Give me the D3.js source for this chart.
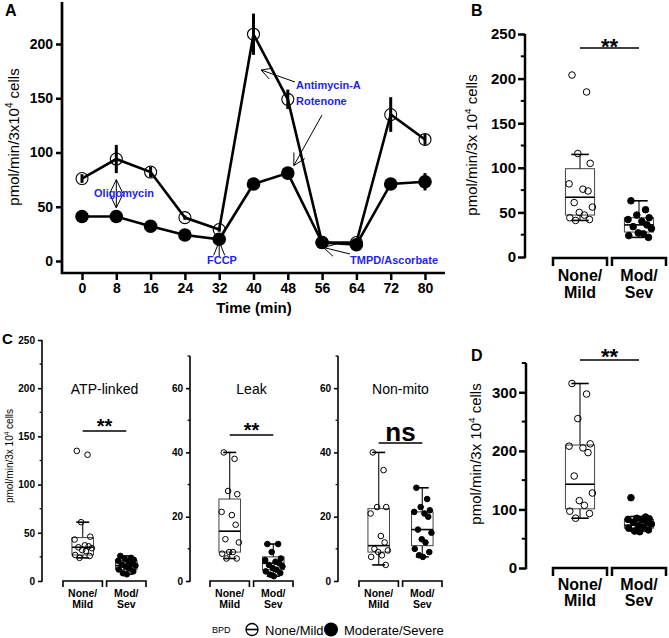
<!DOCTYPE html>
<html><head><meta charset="utf-8">
<script src="https://cdn.jsdelivr.net/npm/d3@7"></script>
<style>body{margin:0;background:#fff}svg{display:block}text{font-family:Arial,"Liberation Sans",sans-serif}</style>
</head><body><svg id="c" width="669" height="638"></svg>
<script>
// ---------- Panel A data ----------
const timePoints = [0, 8, 16, 24, 32, 40, 48, 56, 64, 72, 80];
const noneMildOCR = [76, 94, 82, 40, 29, 209, 149, 17, 17, 135, 112];
const noneMildErr = [4, 13, 5, 2, 2, 19, 9, 2, 2, 16, 5];
const modSevOCR = [41, 41, 32, 24, 20, 71, 81, 17, 15, 71, 73];
const modSevErr = [2, 2, 2, 2, 2, 3, 3, 2, 2, 3, 8];
const yTicksA = [0, 50, 100, 150, 200];

// ---------- Box panels data: [whiskerLow, Q1, median, Q3, whiskerHigh] ----------
const groups = ["None/Mild", "Mod/Sev"];
const B_nmStats = [41, 47, 67, 99, 115];
const B_nmDots = [204, 185, 116, 105, 82, 76, 74, 61, 56, 50, 47, 44, 42, 41];
const B_msStats = [22, 28, 36, 44, 63];
const B_msDots = [63, 53, 47, 44, 42, 40, 36, 34, 32, 27, 26, 24, 22];

const C1_nmStats = [24, 27, 35, 45, 61];
const C1_nmDots = [135, 131, 61, 46, 43, 37, 36, 35, 34, 32, 31, 27, 26, 24];
const C1_msStats = [7, 12, 16, 21, 26];
const C1_msDots = [26, 24, 23, 22, 21, 20, 18, 17, 16, 15, 13, 12, 10, 8, 7];

const C2_nmStats = [7, 9, 15.5, 25.5, 40];
const C2_nmDots = [40, 38, 28, 27, 21.5, 20.5, 17.5, 13, 12, 9, 9, 8.5, 7, 7];
const C2_msStats = [1.5, 3.5, 5.5, 7.5, 11.5];
const C2_msDots = [11.5, 11.5, 9, 7, 6.5, 6, 5.5, 5, 4.5, 4, 3.5, 3, 2.5, 2, 1.5];

const C3_nmStats = [5, 9, 11, 22.5, 40];
const C3_nmDots = [40, 34.5, 23, 23, 21, 14, 12, 10, 9.5, 9, 8, 7.5, 5];
const C3_msStats = [7.5, 11, 16, 21.5, 29];
const C3_msDots = [29, 25.5, 23, 22, 21.5, 21, 20, 16, 15, 13, 12, 10, 9, 8, 7.5];

const D_nmStats = [85, 101, 143, 210, 315];
const D_nmDots = [315, 297, 255, 212, 208, 205, 197, 157, 128, 115, 107, 97, 93, 85];
const D_msStats = [63, 68, 73, 83, 88];
const D_msDots = [120, 87, 85, 84, 83, 82, 80, 78, 75, 72, 70, 68, 65, 63, 62];

const svg = d3.select("#c");
const BLUE = "#1f1ff0";

function arrow(g, x1, y1, x2, y2, len, ang) {
  // shaft from (x1,y1) to tip (x2,y2), open V head
  g.append("line").attr("x1", x1).attr("y1", y1).attr("x2", x2).attr("y2", y2);
  const a = Math.atan2(y1 - y2, x1 - x2);
  [a - ang, a + ang].forEach(b => {
    g.append("line").attr("x1", x2).attr("y1", y2)
      .attr("x2", x2 + len * Math.cos(b)).attr("y2", y2 + len * Math.sin(b));
  });
}

// ================= Panel A =================
(function () {
  const xA = d3.scaleLinear().domain([0, 80]).range([82, 425]);
  const yA = d3.scaleLinear().domain([0, 200]).range([261, 44]);
  const g = svg.append("g");
  const axX = g.append("g").attr("transform", "translate(0,273)")
    .call(d3.axisBottom(xA).tickValues(timePoints).tickSize(7).tickPadding(3).tickFormat(d3.format("d")));
  const axY = g.append("g").attr("transform", "translate(62,0)")
    .call(d3.axisLeft(yA).tickValues(yTicksA).tickSize(6).tickPadding(3).tickFormat(d3.format("d")));
  [axX, axY].forEach(a => {
    a.select(".domain").remove();
    a.selectAll("line").attr("stroke-width", 2.5);
    a.selectAll("text").attr("font-size", 14).attr("font-weight", "bold").attr("fill", "#000");
  });
  g.append("path").attr("d", "M62,2V273H445").attr("fill", "none").attr("stroke", "#000").attr("stroke-width", 2.7);
  g.append("text").attr("x", 254).attr("y", 313).attr("text-anchor", "middle")
    .attr("font-size", 15).attr("font-weight", "bold").text("Time (min)");
  const yt = g.append("text").attr("transform", "translate(19,137) rotate(-90)")
    .attr("text-anchor", "middle").attr("font-size", 15);
  yt.append("tspan").text("pmol/min/3x10");
  yt.append("tspan").attr("font-size", 10).attr("dy", -6).text("4");
  yt.append("tspan").attr("dy", 6).text(" cells");
  g.append("text").attr("x", 5).attr("y", 16).attr("font-size", 16).attr("font-weight", "bold").text("A");

  const line = d3.line().x((d, i) => xA(timePoints[i])).y(d => yA(d));
  // error bars
  [[noneMildOCR, noneMildErr], [modSevOCR, modSevErr]].forEach(([v, e]) => {
    g.selectAll(null).data(v).join("line")
      .attr("x1", (d, i) => xA(timePoints[i])).attr("x2", (d, i) => xA(timePoints[i]))
      .attr("y1", (d, i) => yA(d - e[i])).attr("y2", (d, i) => yA(d + e[i]))
      .attr("stroke", "#000").attr("stroke-width", 3);
  });
  g.append("path").datum(noneMildOCR).attr("d", line).attr("fill", "none").attr("stroke", "#000").attr("stroke-width", 2.6);
  g.append("path").datum(modSevOCR).attr("d", line).attr("fill", "none").attr("stroke", "#000").attr("stroke-width", 2.6);
  g.selectAll(null).data(noneMildOCR).join("circle")
    .attr("cx", (d, i) => xA(timePoints[i])).attr("cy", d => yA(d)).attr("r", 6)
    .attr("fill", "none").attr("stroke", "#000").attr("stroke-width", 1.1);
  g.selectAll(null).data(modSevOCR).join("circle")
    .attr("cx", (d, i) => xA(timePoints[i])).attr("cy", d => yA(d)).attr("r", 6.8).attr("fill", "#000");

  // annotations
  const an = g.append("g").attr("stroke", "#000").attr("stroke-width", 1);
  const ox = xA(8), oy = (yA(75) + yA(49)) / 2;
  arrow(an, ox, oy, ox, yA(75), 15, 0.45);
  arrow(an, ox, oy, ox, yA(49), 15, 0.45);
  const fx = xA(32);
  arrow(an, fx, 257, fx, yA(18), 15, 0.38);
  arrow(an, 295, 82, xA(41.8), yA(176), 12, 0.5);
  arrow(an, 322, 115, xA(49.4), yA(88), 13, 0.5);
  arrow(an, 350, 254, xA(56.3), yA(12.5), 13, 0.5);
  const at = (x, y, t, anchor) => g.append("text").attr("x", x).attr("y", y).attr("text-anchor", anchor || "start")
    .attr("font-size", 11).attr("font-weight", "bold").attr("fill", BLUE).text(t);
  at(124, 197, "Oligomycin", "middle");
  at(222, 264, "FCCP", "middle");
  at(296, 89, "Antimycin-A");
  at(296, 105, "Rotenone");
  at(350, 264, "TMPD/Ascorbate");
})();

// ================= Box panels =================
const JIT = [-0.55, 0.45, -0.15, 0.7, -0.75, 0.2, 0.55, -0.4, 0.85, -0.05, 0.3, -0.7, 0.65, -0.3, 0.05];

function boxPanel(c) {
  const g = svg.append("g");
  const y = d3.scaleLinear().domain([0, c.max]).range([c.y0, c.yTop]);
  const x = d3.scaleBand().domain(groups).range(c.xr).paddingInner(0.05);
  const ax = g.append("g").attr("transform", `translate(${c.ax},0)`)
    .call(d3.axisLeft(y).tickValues(c.major).tickSize(c.tick).tickPadding(c.pad).tickFormat(d3.format("d")));
  ax.select(".domain").remove();
  ax.selectAll("line").attr("stroke-width", c.sw);
  ax.selectAll("text").attr("font-size", c.tf).attr("font-weight", "bold").attr("fill", "#000");
  g.selectAll(null).data(c.minor).join("line")
    .attr("x1", c.ax - c.tick * 0.6).attr("x2", c.ax).attr("y1", d => y(d)).attr("y2", d => y(d))
    .attr("stroke", "#000").attr("stroke-width", c.sw * 0.8);
  g.append("line").attr("x1", c.ax).attr("x2", c.ax).attr("y1", y(0) + c.sw / 2).attr("y2", y(c.max))
    .attr("stroke", "#000").attr("stroke-width", c.sw);
  const bw = x.bandwidth();
  const boxW = bw * 0.52;
  const stats = [c.nmS, c.msS], dots = [c.nmD, c.msD];
  groups.forEach((gr, k) => {
    const x0 = x(gr) + 1, x1 = x(gr) + bw - 1, cx = x(gr) + bw / 2;
    g.append("path").attr("d", `M${x0},${c.by + c.bh}V${c.by}H${x1}V${c.by + c.bh}`)
      .attr("fill", "none").attr("stroke", "#000").attr("stroke-width", c.sw);
    const lab = gr === "None/Mild" ? ["None/", "Mild"] : ["Mod/", "Sev"];
    lab.forEach((t, j) => g.append("text").attr("x", cx).attr("y", c.by + c.ly[j]).attr("text-anchor", "middle")
      .attr("font-size", c.lf).attr("font-weight", "bold").text(t));
    const s = stats[k];
    g.append("rect").attr("x", cx - boxW / 2).attr("y", y(s[3])).attr("width", boxW).attr("height", y(s[1]) - y(s[3]))
      .attr("fill", "none").attr("stroke", "#444").attr("stroke-width", 1);
    g.append("line").attr("x1", cx - boxW / 2).attr("x2", cx + boxW / 2).attr("y1", y(s[2])).attr("y2", y(s[2]))
      .attr("stroke", "#000").attr("stroke-width", 1.6);
    [[s[3], s[4]], [s[1], s[0]]].forEach(([a, b]) => {
      g.append("line").attr("x1", cx).attr("x2", cx).attr("y1", y(a)).attr("y2", y(b)).attr("stroke", "#222").attr("stroke-width", 1.2);
      g.append("line").attr("x1", cx - boxW * 0.3).attr("x2", cx + boxW * 0.3).attr("y1", y(b)).attr("y2", y(b))
        .attr("stroke", "#000").attr("stroke-width", 1.6);
    });
    g.selectAll(null).data(dots[k]).join("circle")
      .attr("cx", (d, i) => cx + JIT[i % JIT.length] * boxW * 0.5)
      .attr("cy", d => y(d)).attr("r", c.r)
      .attr("fill", k === 0 ? "none" : "#000").attr("stroke", "#000").attr("stroke-width", 1);
  });
  const c0 = x(groups[0]) + bw / 2, c1 = x(groups[1]) + bw / 2;
  g.append("line").attr("x1", c0).attr("x2", c1).attr("y1", c.sig.ly).attr("y2", c.sig.ly)
    .attr("stroke", "#000").attr("stroke-width", 1.5);
  g.append("text").attr("x", (c0 + c1) / 2).attr("y", c.sig.ty).attr("text-anchor", "middle")
    .attr("font-size", c.sig.fs).attr("font-weight", "bold").text(c.sig.t);
  if (c.title) {
    g.append("text").attr("x", (c.xr[0] + c.xr[1]) / 2).attr("y", c.title.y).attr("text-anchor", "middle")
      .attr("font-size", 14).text(c.title.t);
  }
  if (c.yt) {
    const t = g.append("text").attr("transform", `translate(${c.yt.x},${c.yt.y}) rotate(-90)`)
      .attr("text-anchor", "middle").attr("font-size", c.yt.fs);
    t.append("tspan").text("pmol/min/3x 10");
    t.append("tspan").attr("font-size", c.yt.fs * 0.65).attr("dy", -c.yt.fs * 0.4).text("4");
    t.append("tspan").attr("dy", c.yt.fs * 0.4).text(" cells");
  }
  if (c.letter) {
    g.append("text").attr("x", c.letter.x).attr("y", c.letter.y).attr("font-size", c.letter.fs)
      .attr("font-weight", "bold").text(c.letter.t);
  }
}

boxPanel({
  ax: 525, y0: 257, yTop: 34, max: 250, major: [0, 50, 100, 150, 200, 250], minor: [25, 75, 125, 175, 225],
  xr: [552, 667], tf: 15, tick: 7, pad: 2, sw: 2.5, by: 258, bh: 8, lf: 16, ly: [23, 40], r: 3.3,
  nmS: B_nmStats, nmD: B_nmDots, msS: B_msStats, msD: B_msDots,
  sig: { t: "**", fs: 22, ty: 54, ly: 48 },
  yt: { x: 477, y: 145, fs: 15 }, letter: { t: "B", x: 471, y: 16, fs: 16 }
});
boxPanel({
  ax: 42, y0: 581, yTop: 340, max: 250, major: [0, 50, 100, 150, 200, 250], minor: [25, 75, 125, 175, 225],
  xr: [62, 147], tf: 10, tick: 4, pad: 3, sw: 1.6, by: 581, bh: 6, lf: 10.5, ly: [16, 27], r: 2.8,
  nmS: C1_nmStats, nmD: C1_nmDots, msS: C1_msStats, msD: C1_msDots,
  sig: { t: "**", fs: 20, ty: 433, ly: 431 }, title: { t: "ATP-linked", y: 394 },
  yt: { x: 13, y: 456, fs: 10 }, letter: { t: "C", x: 2, y: 344, fs: 15 }
});
boxPanel({
  ax: 190, y0: 581, yTop: 356, max: 70, major: [0, 20, 40, 60], minor: [10, 30, 50, 70],
  xr: [209, 294], tf: 10, tick: 4, pad: 3, sw: 1.6, by: 581, bh: 6, lf: 10.5, ly: [16, 27], r: 2.8,
  nmS: C2_nmStats, nmD: C2_nmDots, msS: C2_msStats, msD: C2_msDots,
  sig: { t: "**", fs: 20, ty: 437, ly: 435 }, title: { t: "Leak", y: 394 }
});
boxPanel({
  ax: 338, y0: 581, yTop: 356, max: 70, major: [0, 20, 40, 60], minor: [10, 30, 50, 70],
  xr: [358, 443], tf: 10, tick: 4, pad: 3, sw: 1.6, by: 581, bh: 6, lf: 10.5, ly: [16, 27], r: 2.8,
  nmS: C3_nmStats, nmD: C3_nmDots, msS: C3_msStats, msD: C3_msDots,
  sig: { t: "ns", fs: 26, ty: 441, ly: 443 }, title: { t: "Non-mito", y: 394 }
});
boxPanel({
  ax: 526, y0: 568, yTop: 363, max: 350, major: [0, 100, 200, 300], minor: [50, 150, 250, 350],
  xr: [552, 667], tf: 15, tick: 7, pad: 2, sw: 2.5, by: 568, bh: 8, lf: 16, ly: [22, 38], r: 3.3,
  nmS: D_nmStats, nmD: D_nmDots, msS: D_msStats, msD: D_msDots,
  sig: { t: "**", fs: 22, ty: 364, ly: 360 },
  yt: { x: 481, y: 454, fs: 15 }, letter: { t: "D", x: 471, y: 361, fs: 16 }
});

// ================= Legend =================
(function () {
  const g = svg.append("g");
  g.append("text").attr("x", 212).attr("y", 633).attr("font-size", 9).text("BPD");
  g.append("circle").attr("cx", 252).attr("cy", 629.5).attr("r", 6).attr("fill", "none").attr("stroke", "#000").attr("stroke-width", 1.3);
  g.append("line").attr("x1", 246).attr("x2", 258).attr("y1", 629.5).attr("y2", 629.5).attr("stroke", "#000").attr("stroke-width", 1.6);
  g.append("text").attr("x", 265).attr("y", 634.5).attr("font-size", 13).text("None/Mild");
  g.append("circle").attr("cx", 331).attr("cy", 629.5).attr("r", 7).attr("fill", "#000");
  g.append("text").attr("x", 344).attr("y", 634.5).attr("font-size", 13).text("Moderate/Severe");
})();
</script></body></html>
